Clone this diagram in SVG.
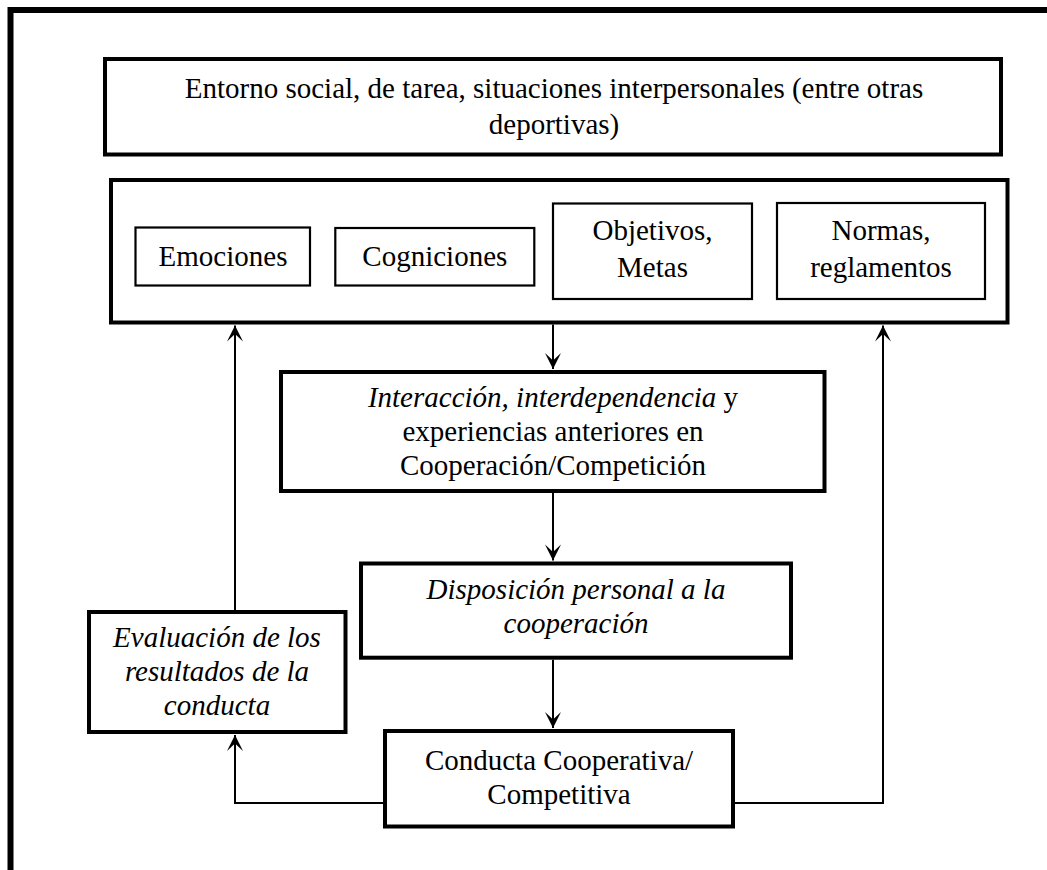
<svg xmlns="http://www.w3.org/2000/svg" width="1047" height="870" viewBox="0 0 1047 870">
<style>
  .thick { fill: #fff; stroke: #000; stroke-width: 4; }
  .thin { fill: #fff; stroke: #000; stroke-width: 2.2; }
  .conn { fill: none; stroke: #000; stroke-width: 2; }
  text { font-family: "Liberation Serif", "Times New Roman", serif; font-size: 29px; fill: #000; text-anchor: middle; }
  .it { font-style: italic; }
</style>
<defs>
  <marker id="arr" viewBox="-17 -9 18 18" refX="0" refY="0" markerWidth="18" markerHeight="18" markerUnits="userSpaceOnUse" orient="auto">
    <path d="M0,0 L-16,-8 L-8.5,0 L-16,8 Z" fill="#000"/>
  </marker>
</defs>
<rect width="1047" height="870" fill="#fff"/>
<rect id="frame" x="10.5" y="10" width="1100" height="950" fill="none" stroke="#000" stroke-width="6"/>

<g id="entorno">
  <rect class="thick" x="105" y="59" width="896" height="95.5"/>
  <text x="554" y="98">Entorno social, de tarea, situaciones interpersonales (entre otras</text>
  <text x="554" y="134">deportivas)</text>
</g>

<g id="factores">
  <rect class="thick" x="111" y="180" width="896.5" height="142.5"/>
</g>
<g id="emociones">
  <rect class="thin" x="135.5" y="227.5" width="174.5" height="58"/>
  <text x="223" y="266">Emociones</text>
</g>
<g id="cogniciones">
  <rect class="thin" x="335.3" y="228" width="199" height="57.5"/>
  <text x="434.8" y="265.5">Cogniciones</text>
</g>
<g id="objetivos">
  <rect class="thin" x="553" y="203.5" width="199" height="95.5"/>
  <text x="652.5" y="240">Objetivos,</text>
  <text x="652.5" y="277">Metas</text>
</g>
<g id="normas">
  <rect class="thin" x="777" y="203" width="208" height="96"/>
  <text x="881" y="240">Normas,</text>
  <text x="881" y="277">reglamentos</text>
</g>

<g id="interaccion">
  <rect class="thick" x="281" y="372" width="543.5" height="119"/>
  <text x="553" y="407"><tspan class="it">Interacción, interdependencia</tspan> y</text>
  <text x="553" y="441">experiencias anteriores en</text>
  <text x="553" y="475">Cooperación/Competición</text>
</g>

<g id="disposicion">
  <rect class="thick" x="361" y="563.5" width="430" height="94.2"/>
  <text class="it" x="576" y="599">Disposición personal a la</text>
  <text class="it" x="576" y="633">cooperación</text>
</g>

<g id="conducta">
  <rect class="thick" x="385" y="731" width="348" height="95.5"/>
  <text x="559" y="770">Conducta Cooperativa/</text>
  <text x="559" y="804">Competitiva</text>
</g>

<g id="evaluacion">
  <rect class="thick" x="89" y="612" width="256.5" height="120"/>
  <text class="it" x="217" y="647">Evaluación de los</text>
  <text class="it" x="217" y="681">resultados de la</text>
  <text class="it" x="217" y="715">conducta</text>
</g>

<g id="connectors">
  <path class="conn" d="M553,324.5 V369" marker-end="url(#arr)"/>
  <path class="conn" d="M553,493 V560.5" marker-end="url(#arr)"/>
  <path class="conn" d="M553,659.7 V728" marker-end="url(#arr)"/>
  <path class="conn" d="M383,803 H235 V735" marker-end="url(#arr)"/>
  <path class="conn" d="M235,610 V325.5" marker-end="url(#arr)"/>
  <path class="conn" d="M735,803 H883 V325.5" marker-end="url(#arr)"/>
</g>
</svg>
